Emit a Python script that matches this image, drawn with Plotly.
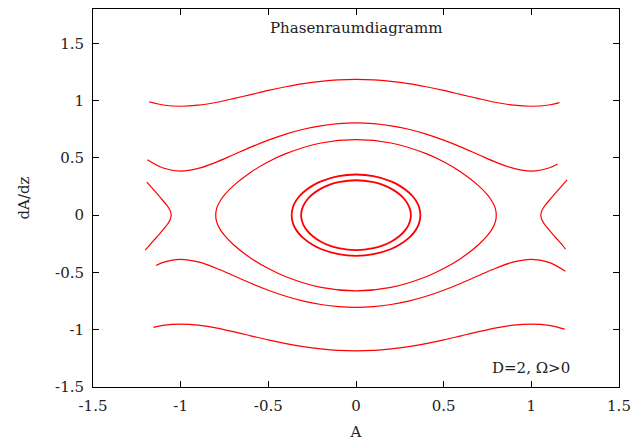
import plotly.graph_objects as go

# Phase-space trajectories (A, dA/dz) for D=2, Omega>0

# outer running orbits, upper and lower branch
top_A = [-1.18, -1.1, -1.0, -0.9, -0.8, -0.7, -0.6, -0.5, -0.4, -0.3, -0.2, -0.1, 0.0,
         0.1, 0.2, 0.3, 0.4, 0.5, 0.6, 0.7, 0.8, 0.9, 1.0, 1.1, 1.16]
top_p = [0.990, 0.962, 0.951, 0.960, 0.984, 1.017, 1.053, 1.089, 1.121, 1.148, 1.168, 1.181, 1.185,
         1.181, 1.168, 1.148, 1.121, 1.089, 1.053, 1.017, 0.984, 0.960, 0.951, 0.962, 0.982]

bot_A = [-1.155, -1.1, -1.0, -0.9, -0.8, -0.7, -0.6, -0.5, -0.4, -0.3, -0.2, -0.1, 0.0,
         0.1, 0.2, 0.3, 0.4, 0.5, 0.6, 0.7, 0.8, 0.9, 1.0, 1.1, 1.19]
bot_p = [-0.980, -0.962, -0.951, -0.960, -0.984, -1.017, -1.053, -1.089, -1.121, -1.148, -1.168, -1.181, -1.185,
         -1.181, -1.168, -1.148, -1.121, -1.089, -1.053, -1.017, -0.984, -0.960, -0.951, -0.962, -0.995]

# running orbits just outside the separatrix
mid_up_A = [-1.19, -1.1, -1.0, -0.9, -0.8, -0.7, -0.6, -0.5, -0.4, -0.3, -0.2, -0.1, 0.0,
            0.1, 0.2, 0.3, 0.4, 0.5, 0.6, 0.7, 0.8, 0.9, 1.0, 1.1, 1.15]
mid_up_p = [0.484, 0.412, 0.385, 0.408, 0.461, 0.527, 0.594, 0.655, 0.708, 0.750, 0.780, 0.799, 0.805,
            0.799, 0.780, 0.750, 0.708, 0.655, 0.594, 0.527, 0.461, 0.408, 0.385, 0.412, 0.447]

mid_lo_A = [-1.14, -1.1, -1.0, -0.9, -0.8, -0.7, -0.6, -0.5, -0.4, -0.3, -0.2, -0.1, 0.0,
            0.1, 0.2, 0.3, 0.4, 0.5, 0.6, 0.7, 0.8, 0.9, 1.0, 1.1, 1.195]
mid_lo_p = [-0.439, -0.412, -0.385, -0.408, -0.461, -0.527, -0.594, -0.655, -0.708, -0.750, -0.780, -0.799, -0.805,
            -0.799, -0.780, -0.750, -0.708, -0.655, -0.594, -0.527, -0.461, -0.408, -0.385, -0.412, -0.490]

# bound orbit inside the separatrix
loop_A = [0.80, 0.795, 0.78, 0.75, 0.7, 0.6, 0.5, 0.4, 0.2, 0.0, -0.2, -0.4, -0.5, -0.6, -0.7, -0.75, -0.78, -0.795,
          -0.80, -0.795, -0.78, -0.75, -0.7, -0.6, -0.5, -0.4, -0.2, 0.0, 0.2, 0.4, 0.5, 0.6, 0.7, 0.75, 0.78, 0.795, 0.80]
loop_p = [0.0, 0.057, 0.111, 0.177, 0.256, 0.375, 0.466, 0.537, 0.630, 0.660, 0.630, 0.537, 0.466, 0.375, 0.256, 0.177, 0.111, 0.057,
          0.0, -0.057, -0.111, -0.177, -0.256, -0.375, -0.466, -0.537, -0.630, -0.660, -0.630, -0.537, -0.466, -0.375, -0.256, -0.177, -0.111, -0.057, 0.0]

# small oscillations around the centre
ell1_A = [0.367, 0.36, 0.35, 0.33, 0.3, 0.25, 0.2, 0.1, 0.0, -0.1, -0.2, -0.25, -0.3, -0.33, -0.35, -0.36,
          -0.367, -0.36, -0.35, -0.33, -0.3, -0.25, -0.2, -0.1, 0.0, 0.1, 0.2, 0.25, 0.3, 0.33, 0.35, 0.36, 0.367]
ell1_p = [0.0, 0.069, 0.105, 0.152, 0.200, 0.256, 0.295, 0.341, 0.355, 0.341, 0.295, 0.256, 0.200, 0.152, 0.105, 0.069,
          0.0, -0.069, -0.105, -0.152, -0.200, -0.256, -0.295, -0.341, -0.355, -0.341, -0.295, -0.256, -0.200, -0.152, -0.105, -0.069, 0.0]

ell2_A = [0.313, 0.31, 0.3, 0.28, 0.25, 0.2, 0.15, 0.1, 0.0, -0.1, -0.15, -0.2, -0.25, -0.28, -0.3, -0.31,
          -0.313, -0.31, -0.3, -0.28, -0.25, -0.2, -0.15, -0.1, 0.0, 0.1, 0.15, 0.2, 0.25, 0.28, 0.3, 0.31, 0.313]
ell2_p = [0.0, 0.039, 0.084, 0.133, 0.180, 0.232, 0.266, 0.288, 0.305, 0.288, 0.266, 0.232, 0.180, 0.133, 0.084, 0.039,
          0.0, -0.039, -0.084, -0.133, -0.180, -0.232, -0.266, -0.288, -0.305, -0.288, -0.266, -0.232, -0.180, -0.133, -0.084, -0.039, 0.0]

# reflected orbits beyond the saddle points
left_A = [-1.193, -1.175, -1.15, -1.125, -1.1, -1.08, -1.07, -1.06, -1.054,
          -1.06, -1.07, -1.08, -1.1, -1.125, -1.15, -1.175, -1.202]
left_p = [0.289, 0.258, 0.214, 0.171, 0.126, 0.088, 0.067, 0.040, 0.0,
          -0.040, -0.067, -0.088, -0.126, -0.171, -0.214, -0.258, -0.305]

right_A = [1.204, 1.175, 1.15, 1.125, 1.1, 1.08, 1.07, 1.06, 1.054,
           1.06, 1.07, 1.08, 1.1, 1.125, 1.15, 1.175, 1.195]
right_p = [0.308, 0.258, 0.214, 0.171, 0.126, 0.088, 0.067, 0.040, 0.0,
           -0.040, -0.067, -0.088, -0.126, -0.171, -0.214, -0.258, -0.297]

tick_vals = [-1.5, -1.0, -0.5, 0.0, 0.5, 1.0, 1.5]
tick_text = ["-1.5", "-1", "-0.5", "0", "0.5", "1", "1.5"]

RED = "#ff0000"
FONT = "DejaVu Serif"
TXT = "#222222"

curves = [
    (top_A, top_p, 1.2), (bot_A, bot_p, 1.2),
    (mid_up_A, mid_up_p, 1.2), (mid_lo_A, mid_lo_p, 1.2),
    (loop_A, loop_p, 1.2),
    (ell1_A, ell1_p, 1.8), (ell2_A, ell2_p, 1.8),
    (left_A, left_p, 1.2), (right_A, right_p, 1.2),
]

fig = go.Figure()
for xs, ys, w in curves:
    fig.add_trace(go.Scatter(x=xs, y=ys, mode="lines",
                             line=dict(color=RED, width=w, shape="spline", smoothing=1.0),
                             showlegend=False, hoverinfo="skip"))

axis_common = dict(
    showgrid=False, zeroline=False, showline=True, linecolor="black", linewidth=1,
    mirror="allticks", ticks="inside", ticklen=6, tickwidth=1, tickcolor="black",
    tickvals=tick_vals, ticktext=tick_text, automargin=False,
    tickfont=dict(family=FONT, size=15, color=TXT),
)

fig.update_xaxes(range=[-1.5, 1.5], **axis_common, ticklabelstandoff=5,
                 title=dict(text="A", font=dict(family=FONT, size=15, color=TXT), standoff=15))
fig.update_yaxes(range=[-1.5, 1.8], **axis_common, ticklabelstandoff=5,
                 title=dict(text="dA/dz", font=dict(family=FONT, size=15, color=TXT), standoff=21))

fig.add_annotation(x=0, y=1.633, xref="x", yref="y", text="Phasenraumdiagramm",
                   showarrow=False, xanchor="center", yanchor="middle",
                   font=dict(family=FONT, size=15, color=TXT))
fig.add_annotation(x=1.231, y=-1.336, xref="x", yref="y", text="D=2, Ω>0",
                   showarrow=False, xanchor="right", yanchor="middle",
                   font=dict(family=FONT, size=15, color=TXT))

fig.update_layout(
    width=634, height=441,
    margin=dict(l=93, r=15, t=9, b=54),
    paper_bgcolor="white", plot_bgcolor="white",
)

fig.write_html("out.html")
